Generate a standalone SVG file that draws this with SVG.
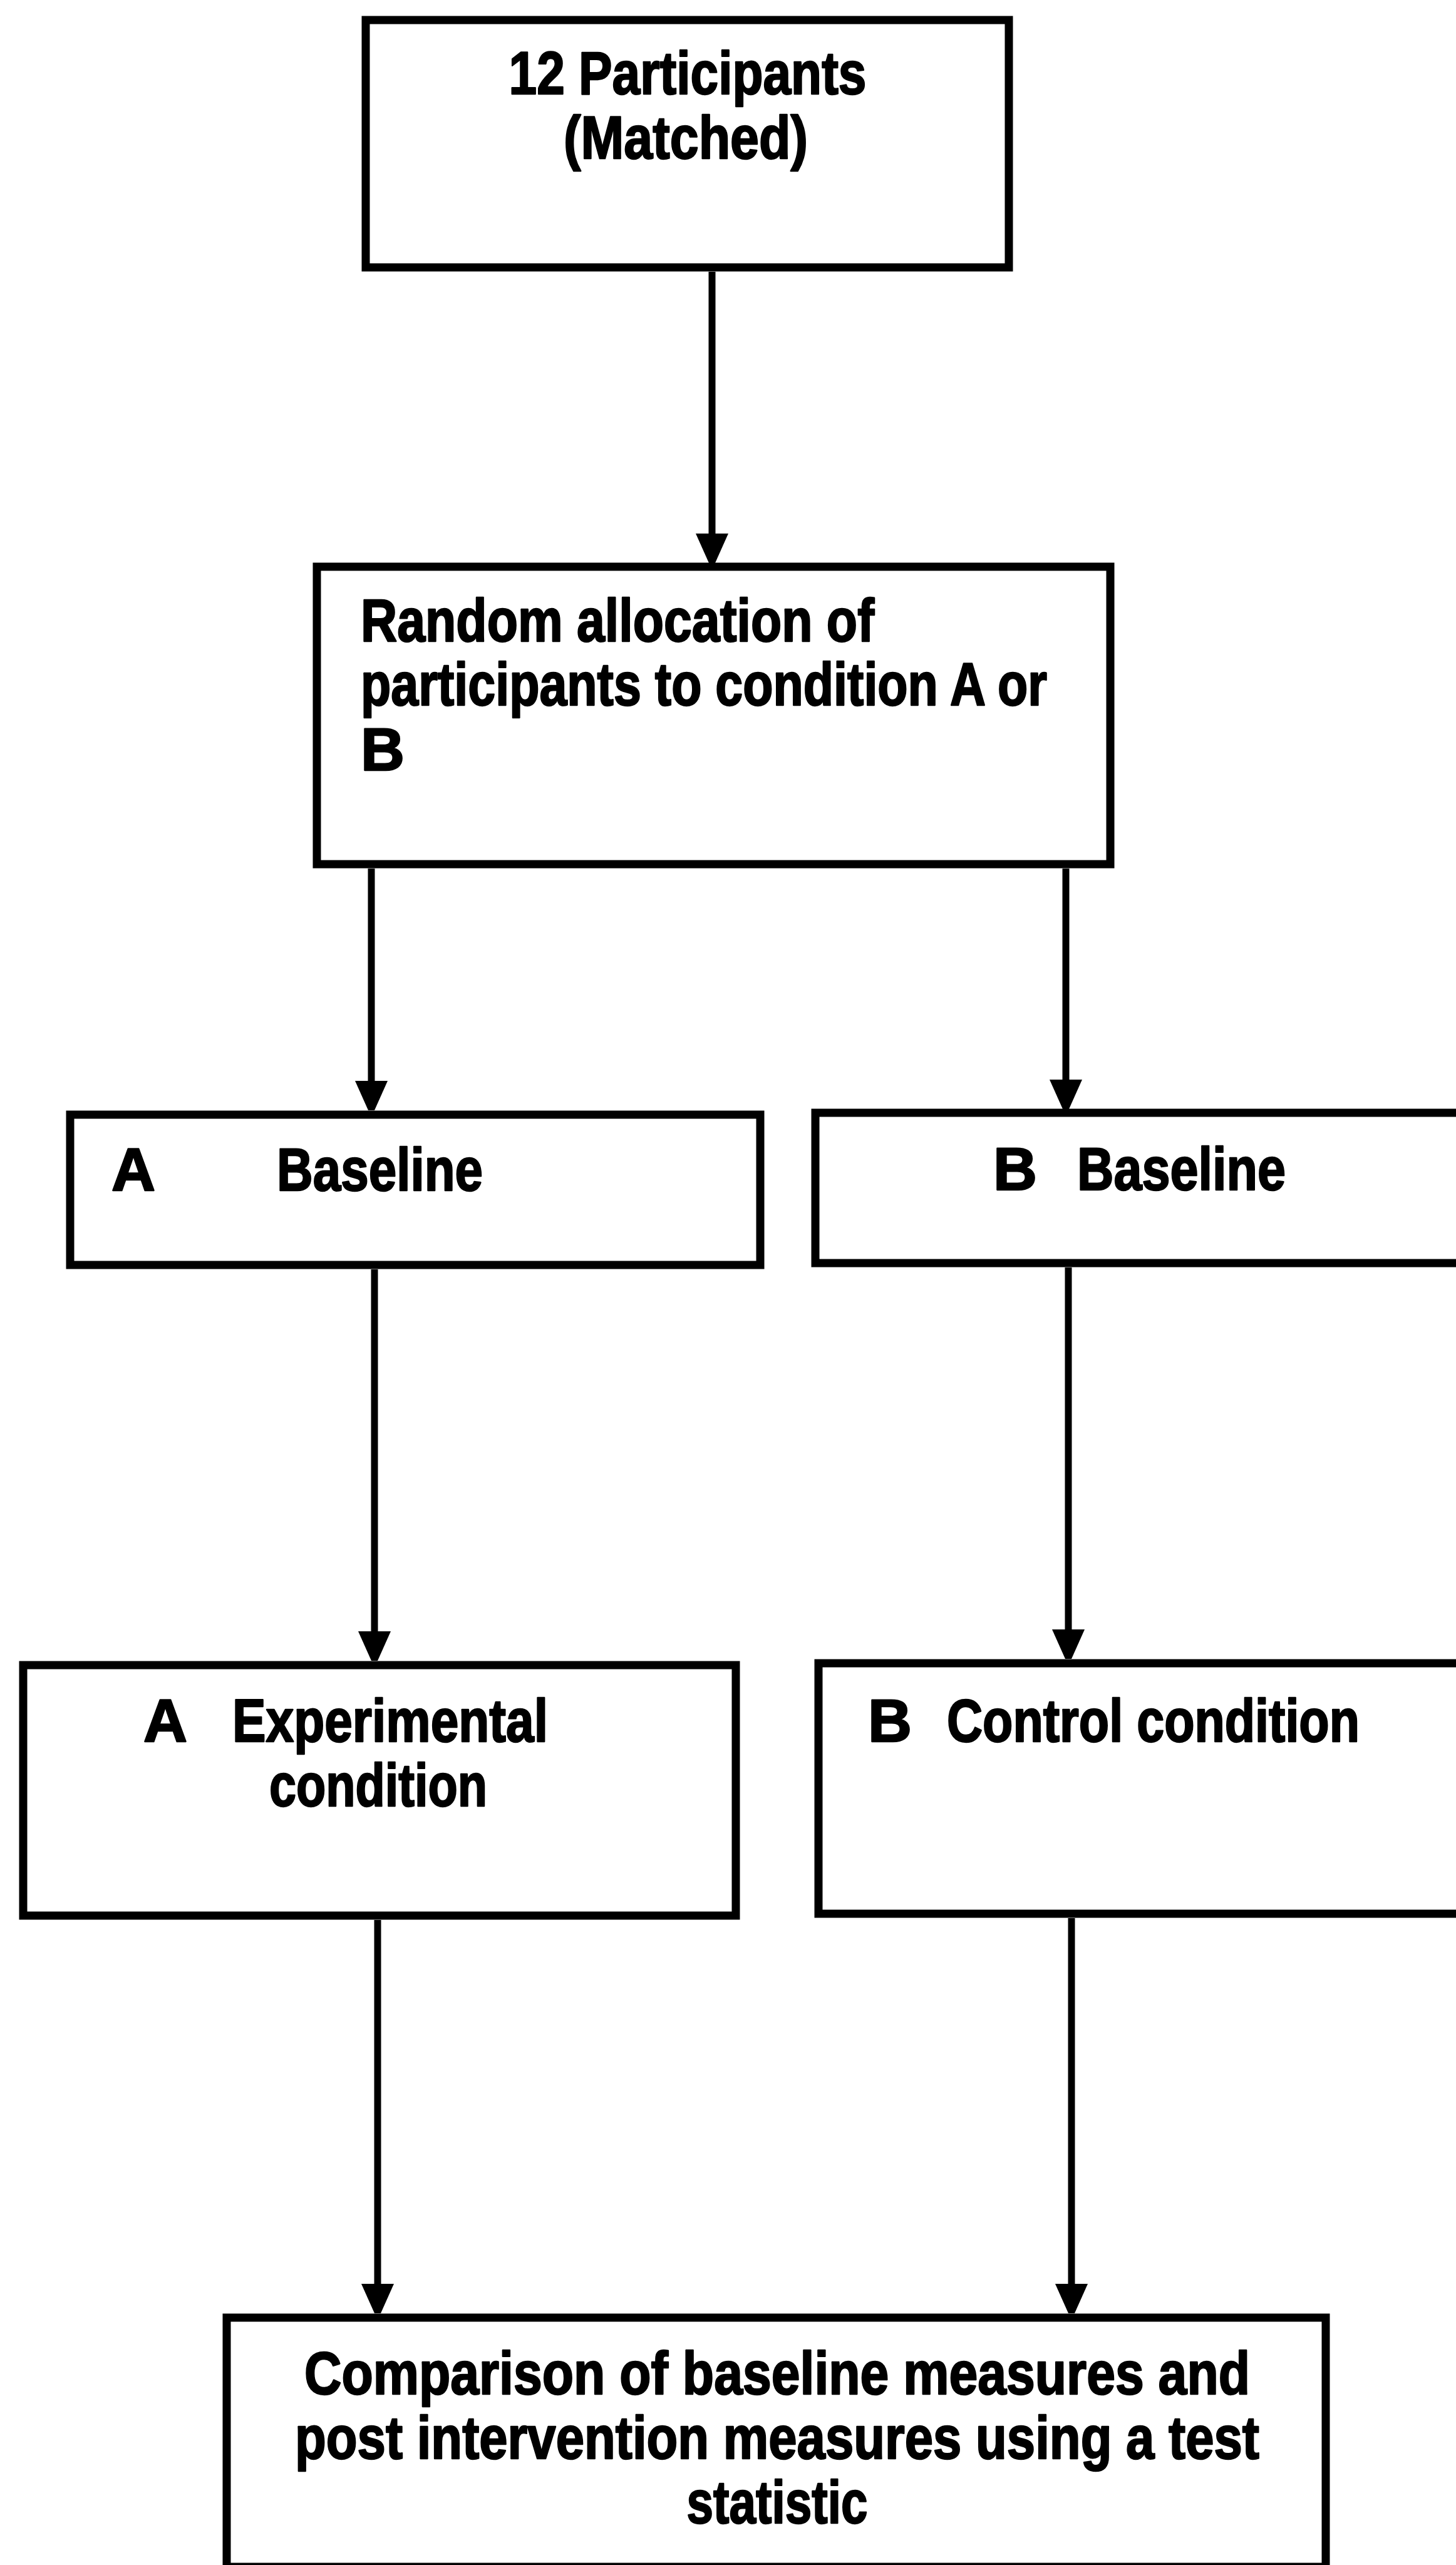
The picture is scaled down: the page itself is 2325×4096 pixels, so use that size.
<svg xmlns="http://www.w3.org/2000/svg" width="2325" height="4096" viewBox="0 0 2325 4096">
<defs>
<style>
.box{fill:#fff;stroke:#000;stroke-width:13}
.t{font-family:"Liberation Sans",Arial,sans-serif;font-weight:bold;font-size:97px;fill:#000;stroke:#000;stroke-width:2.5;stroke-linejoin:round}
.c{text-anchor:middle}
.conn{stroke:#000;stroke-width:11;fill:none}
</style>
<marker id="ah" markerUnits="userSpaceOnUse" viewBox="0 -27 48 54" markerWidth="48" markerHeight="54" refX="2" refY="0" orient="auto">
<path d="M0,-26 L47,-5 L47,5 L0,26 Z" fill="#000"/>
</marker>
</defs>
<rect x="0" y="0" width="2325" height="4096" fill="#fff"/>
<g id="connectors">
<line class="conn" x1="1137" y1="434" x2="1137" y2="854" marker-end="url(#ah)"/>
<line class="conn" x1="593" y1="1387" x2="593" y2="1728" marker-end="url(#ah)"/>
<line class="conn" x1="1702" y1="1387" x2="1702" y2="1726" marker-end="url(#ah)"/>
<line class="conn" x1="598" y1="2027" x2="598" y2="2607" marker-end="url(#ah)"/>
<line class="conn" x1="1706" y1="2024" x2="1706" y2="2604" marker-end="url(#ah)"/>
<line class="conn" x1="603" y1="3066" x2="603" y2="3649" marker-end="url(#ah)"/>
<line class="conn" x1="1711" y1="3063" x2="1711" y2="3649" marker-end="url(#ah)"/>
</g>
<g id="n-participants">
<rect class="box" x="584" y="32" width="1027" height="395"/>
<text class="t c" x="1098" y="150" textLength="571" lengthAdjust="spacingAndGlyphs">12 Participants</text>
<text class="t c" x="1095" y="253" textLength="390" lengthAdjust="spacingAndGlyphs">(Matched)</text>
</g>
<g id="n-random">
<rect class="box" x="506" y="905" width="1267" height="475"/>
<text class="t" x="576" y="1024" textLength="820" lengthAdjust="spacingAndGlyphs">Random allocation of</text>
<text class="t" x="576" y="1126" textLength="1096" lengthAdjust="spacingAndGlyphs">participants to condition A or</text>
<text class="t" x="576" y="1230">B</text>
</g>
<g id="n-a-baseline">
<rect class="box" x="112" y="1780" width="1102" height="240"/>
<text class="t" x="178" y="1901">A</text>
<text class="t" x="442" y="1901" textLength="329" lengthAdjust="spacingAndGlyphs">Baseline</text>
</g>
<g id="n-b-baseline">
<rect class="box" x="1302" y="1777" width="1043" height="240"/>
<text class="t" x="1586" y="1900">B</text>
<text class="t" x="1720" y="1900" textLength="333" lengthAdjust="spacingAndGlyphs">Baseline</text>
</g>
<g id="n-a-experimental">
<rect class="box" x="37" y="2659" width="1138" height="400"/>
<text class="t" x="229" y="2781">A</text>
<text class="t" x="371" y="2781" textLength="504" lengthAdjust="spacingAndGlyphs">Experimental</text>
<text class="t" x="430" y="2884" textLength="348" lengthAdjust="spacingAndGlyphs">condition</text>
</g>
<g id="n-b-control">
<rect class="box" x="1307" y="2656" width="1038" height="400"/>
<text class="t" x="1386" y="2781">B</text>
<text class="t" x="1512" y="2781" textLength="659" lengthAdjust="spacingAndGlyphs">Control condition</text>
</g>
<g id="n-comparison">
<rect class="box" x="362" y="3701" width="1755" height="398"/>
<text class="t c" x="1241" y="3823" textLength="1510" lengthAdjust="spacingAndGlyphs">Comparison of baseline measures and</text>
<text class="t c" x="1241" y="3926" textLength="1540" lengthAdjust="spacingAndGlyphs">post intervention measures using a test</text>
<text class="t c" x="1241" y="4029" textLength="289" lengthAdjust="spacingAndGlyphs">statistic</text>
</g>
</svg>
